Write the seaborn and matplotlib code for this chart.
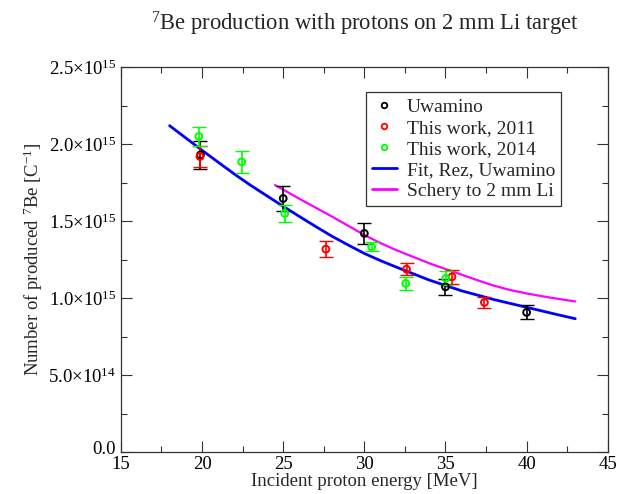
import matplotlib
matplotlib.use("Agg")
import matplotlib.pyplot as plt
import matplotlib.transforms as mtransforms
import seaborn as sns
import pandas as pd
import numpy as np
from matplotlib.lines import Line2D
from matplotlib.ticker import FixedLocator, MultipleLocator

# ---- data (units of 1e15 per C) ----
uwa_E = [19.9, 25.0, 30.0, 35.0, 40.0]
uwa_N = [1.93, 1.647, 1.42, 1.073, 0.907]
uwa_err = [0.09, 0.08, 0.07, 0.05, 0.045]

w11_E = [19.87, 27.63, 32.6, 35.4, 37.4]
w11_N = [1.92, 1.318, 1.188, 1.138, 0.972]
w11_err = [0.07, 0.05, 0.04, 0.045, 0.035]

w14_E = [19.8, 22.44, 25.1, 30.45, 32.55, 35.02]
w14_N = [2.05, 1.885, 1.55, 1.333, 1.095, 1.128]
w14_err = [0.06, 0.073, 0.055, 0.03, 0.045, 0.045]

fit_E = [18, 19, 20, 21, 22, 23, 24, 25, 26, 27, 28, 29, 30, 31, 32, 34, 36, 38, 40, 42, 43]
fit_N = [2.12, 2.04, 1.96, 1.882, 1.805, 1.732, 1.664, 1.596, 1.53, 1.465, 1.402, 1.345, 1.29, 1.243, 1.20, 1.117, 1.047, 0.99, 0.94, 0.89, 0.866]

sch_E = [24.5, 26, 28, 30, 31, 32, 34, 36, 37, 38, 39, 40, 41, 42, 43]
sch_N = [1.734, 1.645, 1.53, 1.41, 1.357, 1.31, 1.226, 1.152, 1.115, 1.08, 1.052, 1.03, 1.011, 0.994, 0.978]

yticks = [0.0, 0.5, 1.0, 1.5, 2.0, 2.5]
ytick_labels = ["0.0", "5.0×10$^{14}$", "1.0×10$^{15}$", "1.5×10$^{15}$", "2.0×10$^{15}$", "2.5×10$^{15}$"]
xticks = [15, 20, 25, 30, 35, 40, 45]

sns.set_style("ticks")
plt.rcParams["font.family"] = ["Liberation Serif", "DejaVu Serif"]
plt.rcParams["mathtext.fontset"] = "custom"
plt.rcParams["mathtext.rm"] = "Liberation Serif"
plt.rcParams["mathtext.it"] = "Liberation Serif:italic"
plt.rcParams["mathtext.bf"] = "Liberation Serif:bold"

fig = plt.figure(figsize=(6.17, 4.94), dpi=100)
ax = fig.add_axes([0.196, 0.085, 0.789, 0.779])

fit_df = pd.DataFrame({"E": fit_E, "N": fit_N})
sch_df = pd.DataFrame({"E": sch_E, "N": sch_N})
sns.lineplot(data=fit_df, x="E", y="N", ax=ax, color="#0000ff", lw=2.0, zorder=2)
sns.lineplot(data=sch_df, x="E", y="N", ax=ax, color="#ff00ff", lw=1.6, zorder=2)

for E, N, err, col in [(uwa_E, uwa_N, uwa_err, "black"),
                       (w11_E, w11_N, w11_err, "#ff0000"),
                       (w14_E, w14_N, w14_err, "#00ff00")]:
    ax.errorbar(E, N, yerr=err, fmt="none", ecolor=col, elinewidth=1.2,
                capsize=5, capthick=1.0, zorder=3)
    sns.scatterplot(x=E, y=N, ax=ax, marker="o", s=24, facecolor="none",
                    edgecolor=col, linewidth=1.4, zorder=4)

ax.set_xlim(15, 45)
ax.set_ylim(0, 2.5)
ax.xaxis.set_major_locator(FixedLocator(xticks))
ax.xaxis.set_minor_locator(MultipleLocator(2.5))
ax.yaxis.set_major_locator(FixedLocator(yticks))
ax.yaxis.set_minor_locator(MultipleLocator(0.25))
ax.set_yticklabels(ytick_labels)
ax.tick_params(which="both", direction="in", top=True, right=True, labelsize=13.5, colors="#333333")
ax.tick_params(axis="both", which="major", length=8, width=0.8, labelcolor="black")
ax.tick_params(axis="both", which="minor", length=4, width=0.8)
ax.tick_params(axis="x", which="major", pad=3)
for s in ax.spines.values():
    s.set_linewidth(0.9)
    s.set_color("#333333")

# nudge the "0.0" label slightly up so it does not collide with "15"
lab0 = ax.get_yticklabels()[0]
lab0.set_transform(lab0.get_transform() + mtransforms.ScaledTranslation(0, 3 / 72, fig.dpi_scale_trans))

ax.set_xlabel("Incident proton energy [MeV]", fontsize=13.5, labelpad=0)
ax.set_ylabel("Number of produced $^7$Be [C$^{-1}$]", fontsize=13.5, labelpad=2)
fig.text(0.592, 0.951, "$^7$Be production with protons on 2 mm Li target",
         ha="center", va="center", fontsize=16.3)

handles = [
    Line2D([], [], ls="none", marker="o", ms=4, mfc="none", mec="black", mew=1.3),
    Line2D([], [], ls="none", marker="o", ms=4, mfc="none", mec="#ff0000", mew=1.3),
    Line2D([], [], ls="none", marker="o", ms=4, mfc="none", mec="#00ff00", mew=1.3),
    Line2D([], [], color="#0000ff", lw=2),
    Line2D([], [], color="#ff00ff", lw=2),
]
labels = ["Uwamino", "This work, 2011", "This work, 2014", "Fit, Rez, Uwamino", "Schery to 2 mm Li"]
leg = ax.legend(handles, labels, loc="upper left", bbox_to_anchor=(0.503, 0.935),
                fontsize=14, frameon=True, fancybox=False, framealpha=1,
                edgecolor="#333333", handlelength=1.3, handletextpad=0.5,
                labelspacing=0.18, borderpad=0.3, borderaxespad=0)
leg.get_frame().set_linewidth(0.9)

fig.savefig("out.png", dpi=100)
